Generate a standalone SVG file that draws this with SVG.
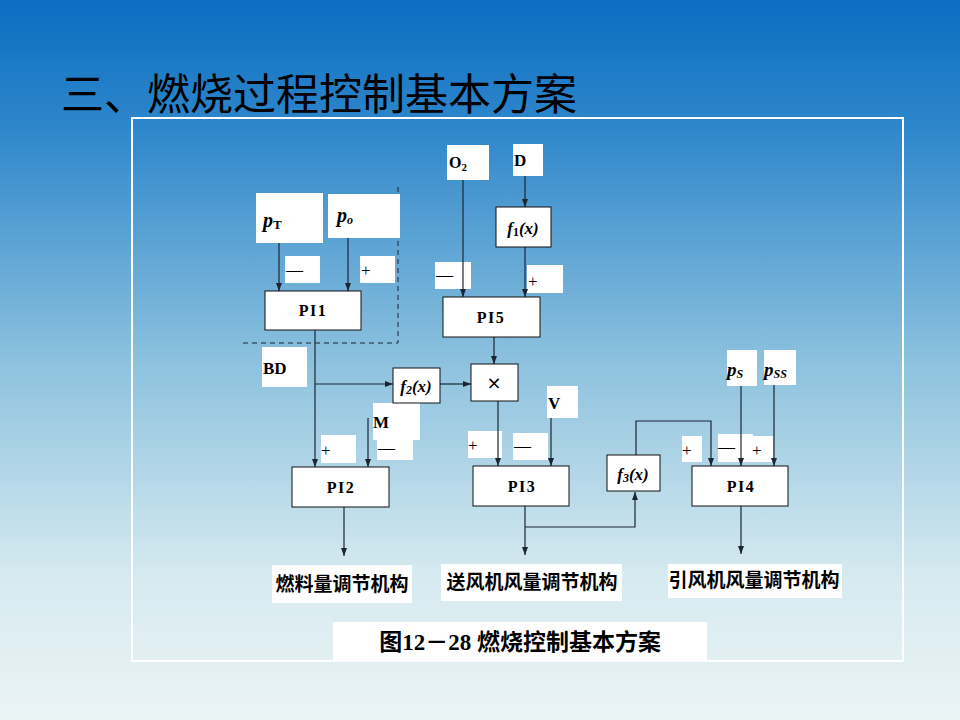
<svg xmlns="http://www.w3.org/2000/svg" width="960" height="720" viewBox="0 0 960 720">
<defs>
<linearGradient id="bg" x1="0" y1="0" x2="0" y2="1">
<stop offset="0" stop-color="#0a6dc1"/>
<stop offset="0.18" stop-color="#2f87cb"/>
<stop offset="0.5" stop-color="#8cc1de"/>
<stop offset="0.8" stop-color="#d6eaf0"/>
<stop offset="1" stop-color="#ebf4f5"/>
</linearGradient>
<marker id="arr" markerUnits="userSpaceOnUse" markerWidth="8" markerHeight="8" refX="8" refY="4" orient="auto">
<path d="M0,1 L8,4 L0,7 Z" fill="#1b2533"/>
</marker>
</defs>
<style>
.blk{fill:#fff;stroke:#111;stroke-width:1}
.pad{fill:#fff}
.la{fill:none;stroke:#1b2533;stroke-width:1.2;marker-end:url(#arr)}
.tb{font-family:"Liberation Serif",serif;font-weight:bold;fill:#000}
.pi{font-family:"Liberation Serif",serif;font-weight:bold;font-size:16px;letter-spacing:1.5px;fill:#000}
.ti{font-family:"Liberation Serif",serif;font-weight:bold;font-style:italic;fill:#000}
.sg{font-family:"Liberation Serif",serif;font-size:17px;fill:#000}
.cn{font-family:"Liberation Serif","Noto Sans CJK SC",sans-serif;font-weight:bold;fill:#000}
</style>
<rect width="960" height="720" fill="url(#bg)"/>
<text x="61" y="110" font-family="'Noto Sans CJK SC',sans-serif" font-size="43" fill="#000">三、燃烧过程控制基本方案</text>
<rect x="132" y="118" width="771" height="543" fill="none" stroke="#fff" stroke-width="2"/>

<g id="dashed">
<path d="M398,187 V343 H243" fill="none" stroke="#1b2533" stroke-width="1" stroke-dasharray="5,4"/>
</g>

<g id="labels">
<rect class="pad" x="256" y="193" width="67" height="50"/>
<text class="ti" x="263" y="227" font-size="20">p<tspan font-style="normal" font-size="13" dy="2">T</tspan></text>
<rect class="pad" x="328" y="194" width="72" height="44"/>
<text class="ti" x="337" y="222" font-size="20">p<tspan font-size="12" dy="2">o</tspan></text>
<rect class="pad" x="285" y="256" width="35" height="27"/>
<text class="sg" x="286" y="275">—</text>
<rect class="pad" x="360" y="256" width="35" height="27"/>
<text class="sg" x="361" y="276">+</text>

<rect class="pad" x="447" y="145" width="42" height="35"/>
<text class="tb" x="449" y="168" font-size="16">O<tspan font-size="11" dy="3">2</tspan></text>
<rect class="pad" x="513" y="144" width="30" height="32"/>
<text class="tb" x="514" y="166" font-size="17">D</text>
<rect class="pad" x="435" y="262" width="36" height="27"/>
<text class="sg" x="436" y="280">—</text>
<rect class="pad" x="527" y="265" width="36" height="28"/>
<text class="sg" x="528" y="287">+</text>

<rect class="pad" x="262" y="347" width="45" height="40"/>
<text class="tb" x="263" y="374" font-size="17">BD</text>
<rect class="pad" x="373" y="403" width="47" height="37"/>
<rect class="pad" x="377" y="438" width="36" height="22"/>
<text class="tb" x="373" y="428" font-size="17">M</text>
<text class="sg" x="378" y="453">—</text>
<rect class="pad" x="321" y="435" width="35" height="28"/>
<text class="sg" x="321" y="456">+</text>

<rect class="pad" x="547" y="386" width="31" height="32"/>
<text class="tb" x="548" y="409" font-size="17">V</text>
<rect class="pad" x="468" y="431" width="34" height="27"/>
<text class="sg" x="468" y="451">+</text>
<rect class="pad" x="513" y="433" width="35" height="27"/>
<text class="sg" x="514" y="451">—</text>

<rect class="pad" x="727" y="350" width="30" height="36"/>
<text class="ti" x="727" y="376" font-size="19">p<tspan font-size="12" dy="2">S</tspan></text>
<rect class="pad" x="764" y="350" width="32" height="35"/>
<text class="ti" x="764" y="376" font-size="19">p<tspan font-size="12" dy="2">SS</tspan></text>
<rect class="pad" x="682" y="436" width="20" height="26"/>
<text class="sg" x="682" y="456">+</text>
<rect class="pad" x="718" y="434" width="35" height="28"/>
<text class="sg" x="718" y="452">—</text>
<rect class="pad" x="752" y="436" width="21" height="26"/>
<text class="sg" x="752" y="456">+</text>
</g>

<g id="connectors">
<path class="la" d="M279,243 V291"/>
<path class="la" d="M348,238 V291"/>
<path class="la" d="M315,330 V467"/>
<path class="la" d="M315,384 H393"/>
<path class="la" d="M440,384 H471"/>
<path class="la" d="M463,180 V297"/>
<path class="la" d="M525,176 V207"/>
<path class="la" d="M525,247 V297"/>
<path class="la" d="M494,337 V364"/>
<path class="la" d="M498,401 V466"/>
<path class="la" d="M551,418 V466"/>
<path class="la" d="M368,418 V467"/>
<path class="la" d="M344,507 V556"/>
<path class="la" d="M525,506 V555"/>
<path class="la" d="M525,527 H635 V492"/>
<path class="la" d="M636,455 V421 H711 V466"/>
<path class="la" d="M741,386 V466"/>
<path class="la" d="M774,385 V466"/>
<path class="la" d="M741,506 V554"/>
</g>

<g id="PI1"><rect class="blk" x="265" y="291" width="96" height="39"/><text class="pi" x="313" y="316" text-anchor="middle">PI1</text></g>
<g id="PI5"><rect class="blk" x="443" y="297" width="97" height="40"/><text class="pi" x="491" y="323" text-anchor="middle">PI5</text></g>
<g id="f1"><rect class="blk" x="496" y="207" width="55" height="40"/><text class="ti" x="523" y="234" font-size="17" text-anchor="middle">f<tspan font-style="normal" font-size="12" dy="2">1</tspan><tspan dy="-2">(x)</tspan></text></g>
<g id="f2"><rect class="blk" x="393" y="368" width="47" height="35"/><text class="ti" x="416" y="392" font-size="17" text-anchor="middle">f<tspan font-size="12" dy="2">2</tspan><tspan dy="-2">(x)</tspan></text></g>
<g id="mult"><rect class="blk" x="471" y="364" width="47" height="37"/><text x="494" y="389" font-family="'DejaVu Sans',sans-serif" font-size="18" text-anchor="middle" fill="#000">×</text></g>
<g id="PI2"><rect class="blk" x="292" y="467" width="97" height="40"/><text class="pi" x="341" y="493" text-anchor="middle">PI2</text></g>
<g id="PI3"><rect class="blk" x="473" y="466" width="96" height="40"/><text class="pi" x="522" y="492" text-anchor="middle">PI3</text></g>
<g id="f3"><rect class="blk" x="607" y="455" width="53" height="36"/><text class="ti" x="633" y="480" font-size="17" text-anchor="middle">f<tspan font-size="12" dy="2">3</tspan><tspan dy="-2">(x)</tspan></text></g>
<g id="PI4"><rect class="blk" x="692" y="466" width="96" height="40"/><text class="pi" x="741" y="492" text-anchor="middle">PI4</text></g>

<g id="out1"><rect class="pad" x="272" y="565" width="140" height="38"/><text class="cn" x="342" y="591" font-size="19" text-anchor="middle">燃料量调节机构</text></g>
<g id="out2"><rect class="pad" x="441" y="564" width="181" height="37"/><text class="cn" x="532" y="589" font-size="19" text-anchor="middle">送风机风量调节机构</text></g>
<g id="out3"><rect class="pad" x="668" y="564" width="174" height="34"/><text class="cn" x="754" y="587" font-size="19" text-anchor="middle">引风机风量调节机构</text></g>

<g id="caption"><rect class="pad" x="333" y="622" width="374" height="39"/><text class="cn" x="520" y="650" font-size="23" text-anchor="middle">图12－28 燃烧控制基本方案</text></g>
</svg>
